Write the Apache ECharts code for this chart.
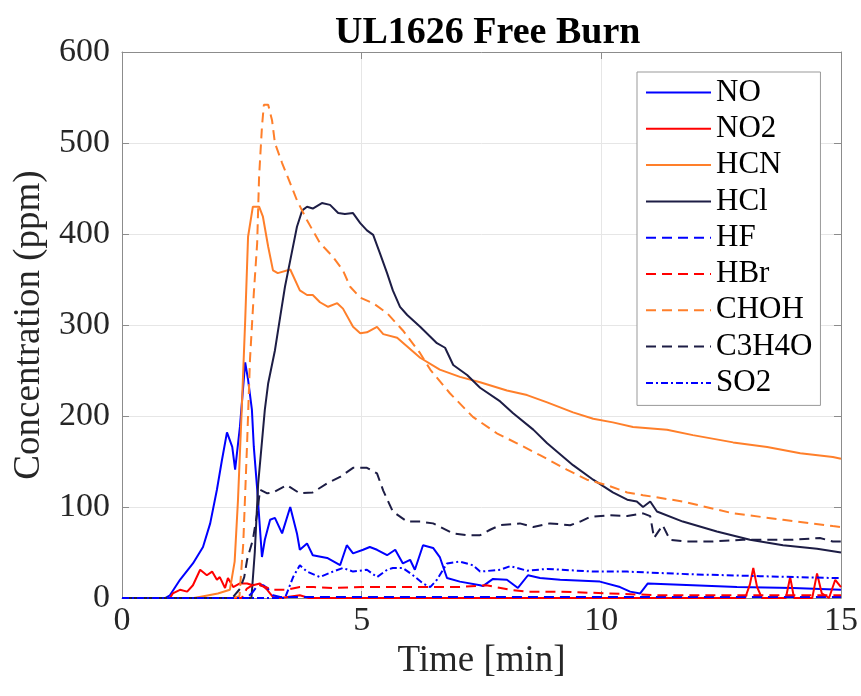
<!DOCTYPE html>
<html>
<head>
<meta charset="utf-8">
<script src="https://cdn.jsdelivr.net/npm/echarts@6/dist/echarts.min.js"></script>
<style>
  html, body { margin: 0; padding: 0; background: #fff; }
  #chart { width: 861px; height: 696px; }
</style>
</head>
<body>
<div id="chart"></div>
<script>
// Gas concentrations (ppm) over time (min), each as [time, value] pairs
const NO = [[0,0],[0.9,0],[1.0,3],[1.21,20],[1.48,38],[1.69,56],[1.84,82],[1.98,119],[2.08,150],[2.19,182],[2.30,166],[2.36,141],[2.46,188],[2.57,259],[2.63,240],[2.71,207],[2.75,166],[2.82,120],[2.92,45],[2.98,64],[3.09,86],[3.19,88],[3.34,71],[3.51,100],[3.65,71],[3.71,53],[3.86,60],[3.98,47],[4.28,44],[4.55,36],[4.69,58],[4.82,49],[5.03,53],[5.17,56],[5.32,53],[5.53,47],[5.70,53],[5.86,38],[6.01,42],[6.11,31],[6.28,58],[6.49,55],[6.63,45],[6.78,22],[7.05,18],[7.47,14],[7.53,13],[7.74,21],[8.03,20],[8.26,11],[8.47,25],[8.72,22],[9.14,20],[9.97,18],[10.39,12],[10.60,7],[10.81,5],[10.97,16],[11.91,14],[12.83,12],[14.00,11],[15,9]];
const NO2 = [[0,0],[1.0,0],[1.06,5],[1.21,9],[1.36,7],[1.48,14],[1.63,31],[1.77,25],[1.88,29],[1.98,20],[2.04,23],[2.15,11],[2.21,22],[2.32,12],[2.46,16],[2.61,16],[2.73,14],[2.88,16],[3.03,9],[3.15,1],[3.3,0],[3.71,3],[3.9,0],[13.0,0],[13.1,15],[13.17,33],[13.25,12],[13.35,0],[13.85,0],[13.94,23],[14.02,0],[14.4,0],[14.5,27],[14.6,5],[14.75,0],[14.88,20],[15,12]];
const HCN = [[0,0],[1.5,0],[1.7,2],[2.0,5],[2.25,9],[2.35,40],[2.42,108],[2.50,210],[2.57,305],[2.63,397],[2.73,430],[2.86,430],[2.94,419],[3.05,386],[3.15,360],[3.25,357],[3.51,361],[3.71,338],[3.86,333],[3.98,333],[4.13,325],[4.30,320],[4.49,324],[4.61,318],[4.82,298],[4.97,291],[5.11,292],[5.32,298],[5.45,290],[5.74,286],[6.22,264],[6.63,251],[7.05,243],[7.47,237],[8.03,228],[8.45,223],[8.87,215],[9.41,204],[9.83,197],[10.24,193],[10.66,188],[11.37,185],[11.91,179],[12.75,171],[13.46,166],[14.15,159],[14.83,155],[15,153]];
const HCl = [[0,0],[2.7,0],[2.77,50],[2.84,125],[2.98,207],[3.05,236],[3.19,272],[3.30,309],[3.40,342],[3.51,371],[3.65,408],[3.76,426],[3.86,430],[3.98,428],[4.17,434],[4.34,432],[4.51,423],[4.65,422],[4.82,423],[4.97,412],[5.11,404],[5.24,399],[5.38,379],[5.53,357],[5.65,338],[5.80,320],[5.95,311],[6.22,298],[6.57,280],[6.74,275],[6.91,256],[7.20,245],[7.47,231],[7.89,216],[8.16,203],[8.58,185],[8.87,170],[9.41,146],[9.83,130],[10.24,116],[10.54,108],[10.74,106],[10.87,100],[11.02,106],[11.16,95],[11.70,84],[12.41,73],[13.10,64],[13.79,58],[14.50,54],[15,50]];
const HF = [[0,0],[2.6,0],[2.72,6],[2.82,13],[2.95,14],[3.05,10],[3.15,3],[3.3,1],[6,1],[10,1],[15,1]];
const HBr = [[0,0],[2.5,0],[2.6,10],[2.75,15],[2.88,14],[3.15,9],[3.44,9],[3.71,12],[4.0,12],[4.4,11],[5.0,12],[6.0,12],[7.0,12],[7.6,14],[8.1,9],[8.45,7],[9.14,7],[10.18,5],[11.2,3],[13.3,3],[15,3]];
const CHOH = [[0,0],[2.3,0],[2.45,2],[2.53,60],[2.61,170],[2.67,262],[2.75,335],[2.82,390],[2.86,463],[2.92,518],[2.96,542],[3.05,542],[3.13,525],[3.19,500],[3.34,478],[3.44,465],[3.65,437],[3.86,415],[4.13,390],[4.40,375],[4.61,360],[4.76,342],[4.97,330],[5.24,324],[5.53,313],[5.86,294],[6.22,269],[6.43,251],[6.84,225],[7.32,199],[7.82,181],[8.24,170],[8.72,157],[9.28,141],[9.70,130],[10.12,124],[10.54,116],[10.87,113],[11.70,106],[12.75,93],[13.79,86],[14.83,79],[15,78]];
const C3H4O = [[0,0],[2.3,0],[2.46,10],[2.55,23],[2.61,42],[2.73,64],[2.82,93],[2.88,119],[3.03,115],[3.15,116],[3.44,124],[3.71,115],[3.98,116],[4.28,126],[4.55,133],[4.82,143],[5.11,143],[5.32,137],[5.45,118],[5.65,95],[5.95,84],[6.22,84],[6.49,82],[6.91,71],[7.20,69],[7.47,69],[7.68,75],[7.89,80],[8.30,82],[8.58,78],[8.93,82],[9.35,80],[9.56,84],[9.76,89],[10.18,91],[10.54,90],[10.87,93],[11.02,90],[11.1,66],[11.28,80],[11.43,64],[11.79,62],[12.27,62],[12.96,64],[14.00,64],[14.56,66],[14.83,62],[15,62]];
const SO2 = [[0,0],[3.4,0],[3.57,23],[3.71,36],[3.86,29],[4.13,23],[4.40,29],[4.61,33],[4.82,29],[5.11,31],[5.32,23],[5.53,31],[5.65,33],[5.86,33],[6.07,25],[6.28,16],[6.43,12],[6.57,20],[6.78,38],[7.05,40],[7.32,36],[7.47,29],[7.89,31],[8.10,35],[8.45,30],[8.87,32],[9.83,29],[10.54,29],[11.91,26],[13.31,24],[14.83,22],[15,22]];

const xTicks = { min: 0, max: 15, interval: 5 };
const yTicks = { min: 0, max: 600, interval: 100 };

const FONT = 'Liberation Serif';
const BLUE = '#0000ff', RED = '#ff0000', ORANGE = '#ff7f2a', NAVY = '#1d1d45';
const DASH = [10, 6];
const DASHDOT = [7, 3, 2, 3];

function line(name, data, color, type) {
  return {
    name, type: 'line', data,
    symbol: 'none', smooth: false,
    lineStyle: { color, width: 2, type },
    itemStyle: { color },
    emphasis: { disabled: true }
  };
}

const axisColor = '#8c8c8c';
const tickStyle = { show: true, inside: true, length: 7, lineStyle: { color: axisColor, width: 1 } };

const chart = echarts.init(document.getElementById('chart'), null, { renderer: 'canvas' });
chart.setOption({
  animation: false,
  backgroundColor: '#ffffff',
  title: {
    text: 'UL1626 Free Burn',
    left: 330, top: 9,
    textStyle: { fontFamily: FONT, fontSize: 38, fontWeight: 'bold', color: '#000' }
  },
  grid: { left: 122, right: 20, top: 52, bottom: 98, containLabel: false },
  xAxis: [
    {
      type: 'value', ...xTicks, position: 'bottom',
      axisLine: { show: true, onZero: false, lineStyle: { color: axisColor, width: 1 } },
      axisTick: tickStyle,
      axisLabel: { fontFamily: FONT, fontSize: 34, color: '#262626', margin: 6 },
      splitLine: { show: true, lineStyle: { color: '#e6e6e6', width: 1 } },
      name: 'Time [min]', nameLocation: 'middle', nameGap: 28,
      nameTextStyle: { fontFamily: FONT, fontSize: 37, color: '#262626' }
    },
    {
      type: 'value', ...xTicks, position: 'top',
      axisLine: { show: true, onZero: false, lineStyle: { color: axisColor, width: 1 } },
      axisTick: tickStyle, axisLabel: { show: false }, splitLine: { show: false }
    }
  ],
  yAxis: [
    {
      type: 'value', ...yTicks, position: 'left',
      axisLine: { show: true, onZero: false, lineStyle: { color: axisColor, width: 1 } },
      axisTick: tickStyle,
      axisLabel: { fontFamily: FONT, fontSize: 34, color: '#262626', margin: 12 },
      splitLine: { show: true, lineStyle: { color: '#e6e6e6', width: 1 } },
      name: 'Concentration (ppm)', nameLocation: 'middle', nameGap: 66,
      nameTextStyle: { fontFamily: FONT, fontSize: 37, color: '#262626' }
    },
    {
      type: 'value', ...yTicks, position: 'right',
      axisLine: { show: true, onZero: false, lineStyle: { color: axisColor, width: 1 } },
      axisTick: tickStyle, axisLabel: { show: false }, splitLine: { show: false }
    }
  ],
  legend: {
    orient: 'vertical', left: 637, top: 72,
    padding: [5, 8, 7, 8],
    itemWidth: 65, itemHeight: 20, itemGap: 5.3,
    itemStyle: { opacity: 0 },
    backgroundColor: '#ffffff', borderColor: '#999999', borderWidth: 1,
    textStyle: { fontFamily: FONT, fontSize: 31, color: '#000', lineHeight: 31 },
    data: ['NO', 'NO2', 'HCN', 'HCl', 'HF', 'HBr', 'CHOH', 'C3H4O', 'SO2']
  },
  series: [
    line('NO', NO, BLUE, 'solid'),
    line('NO2', NO2, RED, 'solid'),
    line('HCN', HCN, ORANGE, 'solid'),
    line('HCl', HCl, NAVY, 'solid'),
    line('HF', HF, BLUE, DASH),
    line('HBr', HBr, RED, DASH),
    line('CHOH', CHOH, ORANGE, DASH),
    line('C3H4O', C3H4O, NAVY, DASH),
    line('SO2', SO2, BLUE, DASHDOT)
  ]
});
</script>
</body>
</html>
